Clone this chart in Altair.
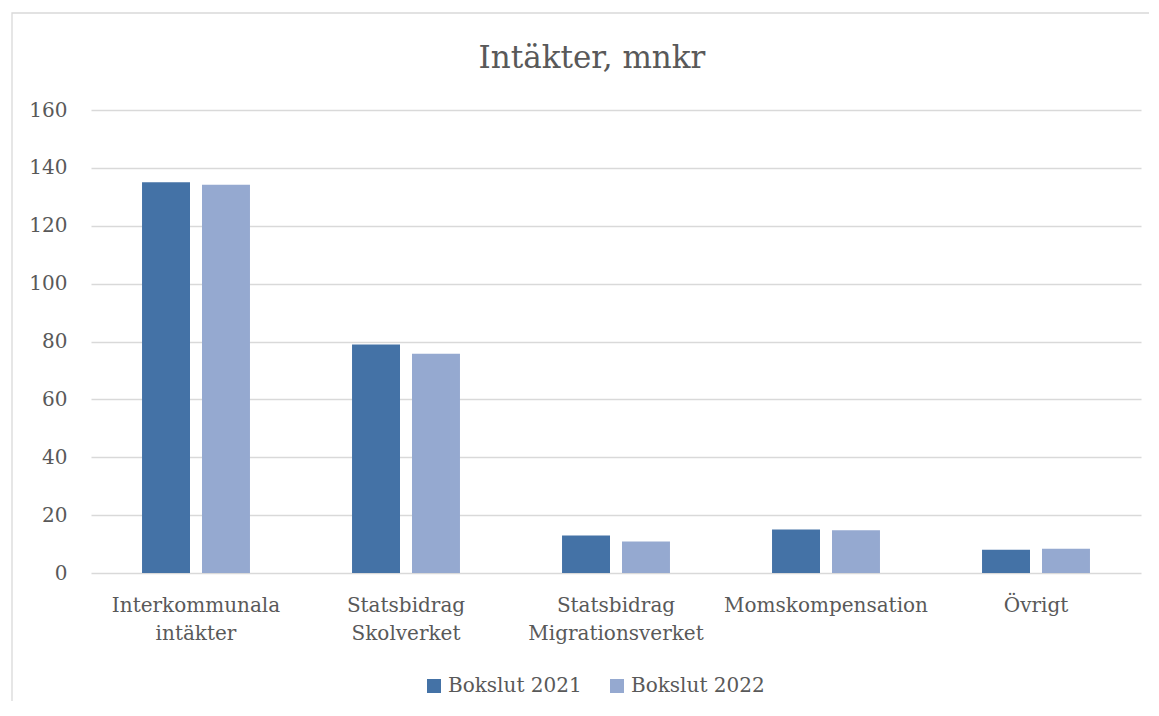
import altair as alt
import pandas as pd

categories = ["Interkommunala\nintäkter", "Statsbidrag\nSkolverket", "Statsbidrag\nMigrationsverket", "Momskompensation", "Övrigt"]
series = ["Bokslut 2021", "Bokslut 2022"]
values_2021 = [135, 79, 13, 15, 8]
values_2022 = [134.2, 75.8, 10.9, 14.8, 8.4]
colors = ["#4472A6", "#95A9D0"]
y_ticks = [0, 20, 40, 60, 80, 100, 120, 140, 160]

rows = []
for c, a, b in zip(categories, values_2021, values_2022):
    rows.append({"Kategori": c, "Serie": series[0], "Värde": a})
    rows.append({"Kategori": c, "Serie": series[1], "Värde": b})
df = pd.DataFrame(rows)

FONT = "DejaVu Serif"
TXT = "#595959"

bars = alt.Chart(df).mark_bar().encode(
    x=alt.X("Kategori:N", sort=categories,
            scale=alt.Scale(paddingInner=0.486, paddingOuter=0.243),
            axis=alt.Axis(title=None, labelAngle=0, domain=False, ticks=False,
                          labelExpr="split(datum.label, '\\n')",
                          labelFont=FONT, labelFontSize=20, labelColor=TXT,
                          labelPadding=22, labelLineHeight=28, labelLimit=0,
                          grid=False)),
    xOffset=alt.XOffset("Serie:N", sort=series,
                        scale=alt.Scale(paddingInner=0.2, paddingOuter=0)),
    y=alt.Y("Värde:Q", scale=alt.Scale(domain=[0, 160], nice=False),
            axis=alt.Axis(title=None, values=y_ticks, domain=False, ticks=False,
                          labelFont=FONT, labelFontSize=20, labelColor=TXT,
                          labelPadding=24, gridColor="#D9D9D9", gridWidth=1.3)),
    color=alt.Color("Serie:N", sort=series,
                    scale=alt.Scale(domain=series, range=colors),
                    legend=alt.Legend(title=None, orient="none", direction="horizontal",
                                      legendX=333, legendY=566,
                                      symbolType="square", symbolSize=196,
                                      symbolStrokeWidth=0, symbolOpacity=1,
                                      labelFont=FONT, labelFontSize=20, labelColor=TXT,
                                      labelOffset=4, columnPadding=25)),
)

frame = alt.Chart(pd.DataFrame({"a": [0]})).mark_rect(
    fill=None, stroke="#D9D9D9", strokeWidth=1.3, clip=False
).encode(x=alt.value(-79), x2=alt.value(1080), y=alt.value(-97), y2=alt.value(620))

chart = alt.layer(frame, bars).properties(
    width=1050, height=463,
    title=alt.Title("Intäkter, mnkr", font=FONT, fontSize=31, fontWeight="normal",
                    color=TXT, anchor="middle", frame="group", dx=-24,
                    baseline="alphabetic", offset=-87),
    autosize=alt.AutoSizeParams(type="none"),
    padding={"left": 83, "top": 102, "right": 8, "bottom": 128},
).configure(background="white").configure_view(stroke=None)

chart.save("out.html", embed_options={"renderer": "svg", "actions": False})
